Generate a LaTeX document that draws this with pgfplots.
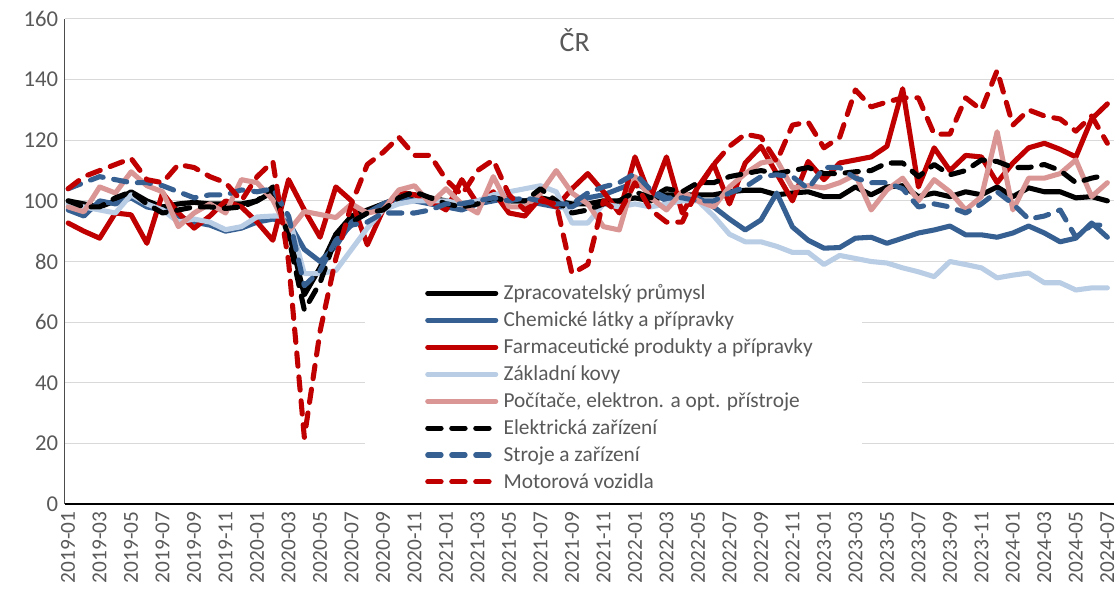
\documentclass[border=0pt]{standalone}
\usepackage{fontspec}
\setmainfont{Carlito}
\usepackage{pgfplots}
\usepackage{pgfplotstable}
\pgfplotsset{compat=1.18}
\definecolor{cBlue}{HTML}{376092}
\definecolor{cRed}{HTML}{C00000}
\definecolor{cLight}{HTML}{B9CDE5}
\definecolor{cPink}{HTML}{D99694}
\definecolor{cGrid}{HTML}{D9D9D9}
\definecolor{cText}{HTML}{595959}
\newcommand\LS{\rule[-3pt]{0pt}{14pt}}
% Z: Zpracovatelsky prumysl, C: Chemicke, F: Farmaceuticke, K: Zakladni kovy,
% P: Pocitace, E: Elektricka, S: Stroje, M: Motorova vozidla  (2019-01 ... 2024-07)
\pgfplotstableread{
Z C F K P E S M
100 97 92.7 99 98 100 104 104
99 95 90 98 96.4 98 106 108
98 100 87.7 97 104.6 98 108 110
100 99 96 96 102.6 101 107 112
103 101 95.4 102 109.6 103 106 114
100 98 86 99 105 99 106 107
98 97 102.6 97 103 96 105 106
99 95 96 93 91.5 97 103 112
99.5 93 91 94 96 98 101 111
99 92 95 93 99 98 102 108
99 90 100 90.5 96 97.5 102 106
99 91 98 91.5 107 98 103.6 100
100 93 93 94.7 106 100 103 108
103 94 87 95 100.3 104.6 104 113
90 93 107 95 90 88 95 80
69 84 97 76 96.5 64 72 22
78 80 88 76 95.5 73 77 57
89 85 104.6 77 94.5 88 87 81
95 93 100 84 99 93 92 99
97 96 85.5 91 96 96 93 112
99 99 97 97 97 97 96 116
101 101 103 99 103.6 101 96 121
102 100 102 100 105 103 96 115
101 99 100 100 99 101 97 115
100 98 97 100 104 99 99 107
99 97 107 99 99 98 99 102
100 99 99 100 96 99 100 110
101 100 103 102 108 101 101 113.5
100 101 96 103 98 100 100 102
100 100 95 104 98 100 101 97
101 99 101 105 102.6 104 100 100
100 98 98 103 110 100 99 99
99 98 104 92.7 102.6 96 99 76
99 101 109 92.7 99 97 102.6 79
100 102 103 99 91.5 99 104.6 100
100 104 96 98 90.4 100 106 96
101 106 114.5 99 108 103 109 106
100 103 101 98 101 101 103.6 97
102 100 114.5 99 97 104 101 93
102 101 96 100 103 103 101 93
102 101 104.6 100 100 106 100 104
102 98 112 95 98 106 100 112
103 94 99 89 104.6 108 102.6 118
103.5 90.4 112.5 86.5 109 109 104.6 122
103.5 93.7 118 86.5 112.5 110 108 121
102 102.6 109 85 113.5 109 108.6 113
102.6 91.4 100 83 104.3 110 108 125
103 87 113 83 105 111 104 126
101.4 84.4 107 79 104.3 109 111 117.5
101.4 84.6 112.5 82 106 109 111 121
104.6 87.7 113.5 81 108.6 109.6 107.5 136.6
102 88 114.5 80 97 110 106 131
104.6 86 118 79.5 103.6 112.5 106 132.6
105 87.7 137 77.9 107.5 112.5 104 134
101.4 89.4 104.6 76.6 100 108 98 134
102.6 90.4 117.5 75 107 112 99 122
101.4 91.7 110 80 103 108.6 98 122
103 88.8 115 79 97 110 96 134
102 88.8 114.5 77.9 101.4 113.5 99 130
104.6 88 106 74.6 122.8 113 103 143
101.4 89.4 112.5 75.5 97 111 99 125
104.3 91.7 117.5 76.2 107.5 111 94 130
103 89.4 119 73 107.5 112 95 128
103 86.5 117 73 109 110 97 127
101 87.7 114.5 70.6 113.5 106 88 123
101.4 92.7 127 71.3 101.4 107.5 92 128
100 88 132 71.3 106 108.6 92 119
}\data

\begin{document}
\begin{tikzpicture}
\useasboundingbox (-48.75pt,-64.5pt) rectangle (789pt,378pt);
\begin{axis}[
  scale only axis, width=786.5pt, height=363.75pt,
  xmin=-0.2, xmax=66.4, ymin=0, ymax=160,
  xtick={0,2,...,66},
  xticklabels={2019-01,2019-03,2019-05,2019-07,2019-09,2019-11,2020-01,2020-03,2020-05,2020-07,2020-09,2020-11,2021-01,2021-03,2021-05,2021-07,2021-09,2021-11,2022-01,2022-03,2022-05,2022-07,2022-09,2022-11,2023-01,2023-03,2023-05,2023-07,2023-09,2023-11,2024-01,2024-03,2024-05,2024-07},
  ytick={0,20,...,160},
  axis x line*=bottom, axis y line*=left,
  x axis line style={-, black, line width=1pt},
  y axis line style={-, black!70, line width=0.75pt},
  ymajorgrids, grid style={cGrid, line width=0.75pt},
  major tick length=0pt, tick style={draw=none},
  xticklabel style={rotate=90, anchor=east, inner sep=0pt, font=\fontsize{16}{17}\selectfont, text=cText},
  xticklabel shift=5.5pt,
  yticklabel style={anchor=east, inner sep=0pt, font=\fontsize{17}{17}\selectfont, text=cText},
  yticklabel shift=5pt,
  /pgf/number format/assume math mode=true,
  legend cell align=left,
  legend style={at={(rel axis cs:0.3435,0.4522)}, anchor=north west, draw=none, fill=none,
    inner sep=0pt, outer sep=0pt, row sep=7.6pt, column sep=4pt,
    font=\fontsize{16}{18}\selectfont, text=cText, nodes={inner sep=0pt}},
  legend image code/.code={\draw[#1] (0pt,0pt) -- (51pt,0pt);},
  every axis plot/.append style={line width=3.8pt, line join=round, line cap=round},
]
\fill[white] (rel axis cs:0.2858,0.008) rectangle (rel axis cs:0.7598,0.4619);
\addplot[black] table[x expr=\coordindex, y=Z] {\data};
\addlegendentry{\LS Zpracovatelský průmysl}
\addplot[cBlue] table[x expr=\coordindex, y=C] {\data};
\addlegendentry{\LS Chemické látky a přípravky}
\addplot[cRed] table[x expr=\coordindex, y=F] {\data};
\addlegendentry{\LS Farmaceutické produkty a přípravky}
\addplot[cLight] table[x expr=\coordindex, y=K] {\data};
\addlegendentry{\LS Základní kovy}
\addplot[cPink] table[x expr=\coordindex, y=P] {\data};
\addlegendentry{\LS Počítače, elektron. a opt. přístroje}
\addplot[black, dash pattern=on 10pt off 8pt] table[x expr=\coordindex, y=E] {\data};
\addlegendentry{\LS Elektrická zařízení}
\addplot[cBlue, dash pattern=on 10pt off 8pt] table[x expr=\coordindex, y=S] {\data};
\addlegendentry{\LS Stroje a zařízení}
\addplot[cRed, dash pattern=on 10pt off 8pt] table[x expr=\coordindex, y=M] {\data};
\addlegendentry{\LS Motorová vozidla}
\node[text=cText, font=\fontsize{21}{24}\selectfont, inner sep=0pt] at (rel axis cs:0.486,0.957) {ČR};
\end{axis}
\end{tikzpicture}
\end{document}
